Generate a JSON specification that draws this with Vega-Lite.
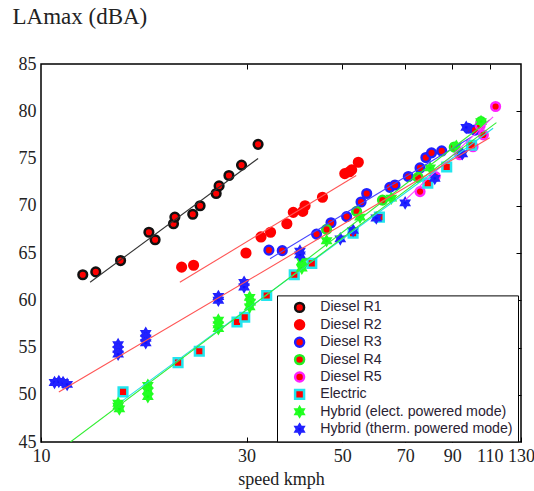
{
  "$schema": "https://vega.github.io/schema/vega-lite/v6.json",
  "autosize": "none",
  "width": 480,
  "height": 378,
  "padding": {"left": 41, "top": 64, "right": 13, "bottom": 49},
  "background": "white",
  "config": {
    "view": {"stroke": "#000", "strokeWidth": 1.5},
    "axis": {"grid": false, "domain": false, "labelFont": "Liberation Serif", "labelFontSize": 18, "labelColor": "#222", "titleFont": "Liberation Serif", "titleFontWeight": "normal", "titleColor": "#222", "tickColor": "#000"}
  },
  "datasets": {
    "pts": [
      {"s": "Diesel R1", "v": 12.5, "L": 62.7}, {"s": "Diesel R1", "v": 13.4, "L": 63.0}, {"s": "Diesel R1", "v": 15.3, "L": 64.2}, {"s": "Diesel R1", "v": 17.8, "L": 67.2}, {"s": "Diesel R1", "v": 18.4, "L": 66.4}, {"s": "Diesel R1", "v": 20.3, "L": 68.1}, {"s": "Diesel R1", "v": 20.45, "L": 68.8}, {"s": "Diesel R1", "v": 22.5, "L": 69.1}, {"s": "Diesel R1", "v": 23.4, "L": 70.0}, {"s": "Diesel R1", "v": 25.5, "L": 71.3}, {"s": "Diesel R1", "v": 25.9, "L": 72.1}, {"s": "Diesel R1", "v": 27.3, "L": 73.2}, {"s": "Diesel R1", "v": 29.2, "L": 74.3}, {"s": "Diesel R1", "v": 31.9, "L": 76.5},
      {"s": "Diesel R2", "v": 21.2, "L": 63.5}, {"s": "Diesel R2", "v": 22.6, "L": 63.7}, {"s": "Diesel R2", "v": 29.9, "L": 65.0}, {"s": "Diesel R2", "v": 32.4, "L": 66.7}, {"s": "Diesel R2", "v": 34.1, "L": 67.2}, {"s": "Diesel R2", "v": 37.2, "L": 68.1}, {"s": "Diesel R2", "v": 38.5, "L": 69.3}, {"s": "Diesel R2", "v": 40.5, "L": 69.4}, {"s": "Diesel R2", "v": 41.0, "L": 70.0}, {"s": "Diesel R2", "v": 45.0, "L": 70.9}, {"s": "Diesel R2", "v": 50.7, "L": 73.4}, {"s": "Diesel R2", "v": 52.0, "L": 73.6}, {"s": "Diesel R2", "v": 52.6, "L": 73.8}, {"s": "Diesel R2", "v": 54.5, "L": 74.6},
      {"s": "Diesel R3", "v": 33.8, "L": 65.3}, {"s": "Diesel R3", "v": 36.3, "L": 65.25}, {"s": "Diesel R3", "v": 43.6, "L": 67.0}, {"s": "Diesel R3", "v": 47.1, "L": 68.2}, {"s": "Diesel R3", "v": 51.2, "L": 68.85}, {"s": "Diesel R3", "v": 55.3, "L": 70.4}, {"s": "Diesel R3", "v": 57.0, "L": 71.3}, {"s": "Diesel R3", "v": 64.5, "L": 71.95}, {"s": "Diesel R3", "v": 66.3, "L": 72.2}, {"s": "Diesel R3", "v": 71.2, "L": 73.1}, {"s": "Diesel R3", "v": 75.8, "L": 74.0}, {"s": "Diesel R3", "v": 78.2, "L": 75.1}, {"s": "Diesel R3", "v": 80.6, "L": 75.6}, {"s": "Diesel R3", "v": 85.1, "L": 75.8}, {"s": "Diesel R3", "v": 98.0, "L": 78.2}, {"s": "Diesel R3", "v": 101.6, "L": 78.0},
      {"s": "Diesel R4", "v": 46.0, "L": 67.5}, {"s": "Diesel R4", "v": 54.0, "L": 69.4}, {"s": "Diesel R4", "v": 62.0, "L": 70.6}, {"s": "Diesel R4", "v": 75.0, "L": 73.0}, {"s": "Diesel R4", "v": 91.0, "L": 76.2}, {"s": "Diesel R4", "v": 105.0, "L": 78.9},
      {"s": "Diesel R5", "v": 75.8, "L": 71.5}, {"s": "Diesel R5", "v": 82.2, "L": 73.1}, {"s": "Diesel R5", "v": 93.7, "L": 75.4}, {"s": "Diesel R5", "v": 100.6, "L": 76.25}, {"s": "Diesel R5", "v": 106.3, "L": 77.5}, {"s": "Diesel R5", "v": 104.5, "L": 78.5}, {"s": "Diesel R5", "v": 113.5, "L": 80.5},
      {"s": "Electric", "v": 15.5, "L": 50.3}, {"s": "Electric", "v": 20.8, "L": 53.4}, {"s": "Electric", "v": 23.3, "L": 54.6}, {"s": "Electric", "v": 28.5, "L": 57.7}, {"s": "Electric", "v": 29.7, "L": 58.2}, {"s": "Electric", "v": 33.4, "L": 60.5}, {"s": "Electric", "v": 38.7, "L": 62.7}, {"s": "Electric", "v": 42.5, "L": 63.9}, {"s": "Electric", "v": 53.0, "L": 67.1}, {"s": "Electric", "v": 61.0, "L": 68.8}, {"s": "Electric", "v": 79.0, "L": 72.4}, {"s": "Electric", "v": 87.4, "L": 74.1}, {"s": "Electric", "v": 99.8, "L": 76.4},
      {"s": "Hybrid (elect. powered mode)", "v": 15.1, "L": 49.1}, {"s": "Hybrid (elect. powered mode)", "v": 15.1, "L": 48.8}, {"s": "Hybrid (elect. powered mode)", "v": 15.2, "L": 48.5}, {"s": "Hybrid (elect. powered mode)", "v": 17.7, "L": 51.0}, {"s": "Hybrid (elect. powered mode)", "v": 17.7, "L": 50.4}, {"s": "Hybrid (elect. powered mode)", "v": 17.7, "L": 49.8}, {"s": "Hybrid (elect. powered mode)", "v": 25.8, "L": 57.9}, {"s": "Hybrid (elect. powered mode)", "v": 25.8, "L": 57.4}, {"s": "Hybrid (elect. powered mode)", "v": 25.8, "L": 57.0}, {"s": "Hybrid (elect. powered mode)", "v": 30.5, "L": 60.3}, {"s": "Hybrid (elect. powered mode)", "v": 30.6, "L": 59.8}, {"s": "Hybrid (elect. powered mode)", "v": 30.5, "L": 59.3}, {"s": "Hybrid (elect. powered mode)", "v": 40.3, "L": 64.1}, {"s": "Hybrid (elect. powered mode)", "v": 40.3, "L": 63.4}, {"s": "Hybrid (elect. powered mode)", "v": 46.0, "L": 66.3}, {"s": "Hybrid (elect. powered mode)", "v": 55.0, "L": 68.8}, {"s": "Hybrid (elect. powered mode)", "v": 65.0, "L": 70.8}, {"s": "Hybrid (elect. powered mode)", "v": 80.0, "L": 74.0}, {"s": "Hybrid (elect. powered mode)", "v": 92.0, "L": 76.3}, {"s": "Hybrid (elect. powered mode)", "v": 105.0, "L": 78.9},
      {"s": "Hybrid (therm. powered mode)", "v": 10.75, "L": 51.3}, {"s": "Hybrid (therm. powered mode)", "v": 11.0, "L": 51.4}, {"s": "Hybrid (therm. powered mode)", "v": 11.25, "L": 51.3}, {"s": "Hybrid (therm. powered mode)", "v": 11.5, "L": 51.1}, {"s": "Hybrid (therm. powered mode)", "v": 15.1, "L": 55.3}, {"s": "Hybrid (therm. powered mode)", "v": 15.1, "L": 54.8}, {"s": "Hybrid (therm. powered mode)", "v": 15.1, "L": 54.3}, {"s": "Hybrid (therm. powered mode)", "v": 17.5, "L": 56.5}, {"s": "Hybrid (therm. powered mode)", "v": 17.5, "L": 56.0}, {"s": "Hybrid (therm. powered mode)", "v": 17.5, "L": 55.5}, {"s": "Hybrid (therm. powered mode)", "v": 25.8, "L": 60.4}, {"s": "Hybrid (therm. powered mode)", "v": 25.8, "L": 60.0}, {"s": "Hybrid (therm. powered mode)", "v": 29.6, "L": 61.9}, {"s": "Hybrid (therm. powered mode)", "v": 29.6, "L": 61.4}, {"s": "Hybrid (therm. powered mode)", "v": 39.9, "L": 65.2}, {"s": "Hybrid (therm. powered mode)", "v": 39.9, "L": 64.8}, {"s": "Hybrid (therm. powered mode)", "v": 49.5, "L": 66.5}, {"s": "Hybrid (therm. powered mode)", "v": 53.0, "L": 67.4}, {"s": "Hybrid (therm. powered mode)", "v": 60.0, "L": 68.7}, {"s": "Hybrid (therm. powered mode)", "v": 70.0, "L": 70.3}, {"s": "Hybrid (therm. powered mode)", "v": 82.0, "L": 72.9}, {"s": "Hybrid (therm. powered mode)", "v": 95.0, "L": 75.5}, {"s": "Hybrid (therm. powered mode)", "v": 97.0, "L": 78.3}
    ],
    "fits": [
      {"f": "R1", "v": 13.0, "L": 61.9}, {"f": "R1", "v": 31.9, "L": 75.0},
      {"f": "R2", "v": 21.0, "L": 61.9}, {"f": "R2", "v": 53.9, "L": 73.2},
      {"f": "R3", "v": 34.0, "L": 64.4}, {"f": "R3", "v": 100.0, "L": 77.3},
      {"f": "R4", "v": 40.0, "L": 63.8}, {"f": "R4", "v": 110.0, "L": 79.1},
      {"f": "R5", "v": 70.0, "L": 70.6}, {"f": "R5", "v": 112.0, "L": 79.4},
      {"f": "E", "v": 15.5, "L": 49.4}, {"f": "E", "v": 112.0, "L": 78.2},
      {"f": "HE", "v": 11.7, "L": 45.0}, {"f": "HE", "v": 114.0, "L": 78.8},
      {"f": "HT", "v": 11.0, "L": 50.3}, {"f": "HT", "v": 110.0, "L": 77.2}
    ]
  },
  "layer": [
    {
      "data": {"name": "pts"},
      "mark": {"type": "point", "filled": true, "size": 75, "strokeWidth": 2.5, "opacity": 1},
      "encoding": {
        "x": {"field": "v", "type": "quantitative", "scale": {"type": "log", "domain": [10, 130], "nice": false},
          "axis": {"orient": "bottom", "values": [10, 30, 50, 70, 90, 110, 130], "tickSize": -5, "labelPadding": 10, "title": "speed kmph", "titleFontSize": 18, "titlePadding": 5, "labelFlush": false}},
        "y": {"field": "L", "type": "quantitative", "scale": {"domain": [45, 85], "nice": false},
          "axis": {"orient": "left", "values": [45, 50, 55, 60, 65, 70, 75, 80, 85], "ticks": false, "labelPadding": 5, "title": "LAmax (dBA)", "titleFontSize": 23, "titleAngle": 0, "titleAlign": "left", "titleBaseline": "alphabetic", "titleX": -29, "titleY": -41}},
        "fill": {"field": "s", "type": "nominal",
          "legend": {"title": null, "orient": "none", "legendX": 236, "legendY": 231.4, "strokeColor": "#000", "fillColor": "white", "padding": 5, "symbolOffset": 10.5, "labelOffset": 13.5, "labelFont": "Liberation Sans", "labelFontSize": 14.2, "labelColor": "#2a2233", "rowPadding": 2.4, "clipHeight": 14, "symbolSize": 80, "symbolStrokeWidth": 2.5, "labelLimit": 400},
          "scale": {"domain": ["Diesel R1", "Diesel R2", "Diesel R3", "Diesel R4", "Diesel R5", "Electric", "Hybrid (elect. powered mode)", "Hybrid (therm. powered mode)"],
            "range": ["#ff0000", "#ff0000", "#ff0000", "#ff0000", "#ff0000", "#ff0000", "#11ff11", "#1010ff"]}},
        "stroke": {"field": "s", "type": "nominal",
          "legend": {"title": null, "orient": "none", "legendX": 236, "legendY": 231.4, "strokeColor": "#000", "fillColor": "white", "padding": 5, "symbolOffset": 10.5, "labelOffset": 13.5, "labelFont": "Liberation Sans", "labelFontSize": 14.2, "labelColor": "#2a2233", "rowPadding": 2.4, "clipHeight": 14, "symbolSize": 80, "symbolStrokeWidth": 2.5, "labelLimit": 400},
          "scale": {"domain": ["Diesel R1", "Diesel R2", "Diesel R3", "Diesel R4", "Diesel R5", "Electric", "Hybrid (elect. powered mode)", "Hybrid (therm. powered mode)"],
            "range": ["#111111", "#ff0000", "#2020ff", "#22ee22", "#ff22ff", "#22e5ee", "#22ff22", "#2222ff"]}},
        "shape": {"field": "s", "type": "nominal",
          "legend": {"title": null, "orient": "none", "legendX": 236, "legendY": 231.4, "strokeColor": "#000", "fillColor": "white", "padding": 5, "symbolOffset": 10.5, "labelOffset": 13.5, "labelFont": "Liberation Sans", "labelFontSize": 14.2, "labelColor": "#2a2233", "rowPadding": 2.4, "clipHeight": 14, "symbolSize": 80, "symbolStrokeWidth": 2.5, "labelLimit": 400},
          "scale": {"domain": ["Diesel R1", "Diesel R2", "Diesel R3", "Diesel R4", "Diesel R5", "Electric", "Hybrid (elect. powered mode)", "Hybrid (therm. powered mode)"],
            "range": ["circle", "circle", "circle", "circle", "circle", "square",
              "M0,-1L0.289,-0.5L0.866,-0.5L0.577,0L0.866,0.5L0.289,0.5L0,1L-0.289,0.5L-0.866,0.5L-0.577,0L-0.866,-0.5L-0.289,-0.5Z",
              "M0,-1L0.289,-0.5L0.866,-0.5L0.577,0L0.866,0.5L0.289,0.5L0,1L-0.289,0.5L-0.866,0.5L-0.577,0L-0.866,-0.5L-0.289,-0.5Z"]}}
      }
    },
    {
      "data": {"name": "fits"},
      "mark": {"type": "line", "strokeWidth": 1.1, "clip": true},
      "encoding": {
        "x": {"field": "v", "type": "quantitative",
          "axis": {"orient": "top", "values": [30, 50, 70, 90, 110], "tickSize": -5, "labels": false, "title": null}},
        "y": {"field": "L", "type": "quantitative",
          "axis": {"orient": "right", "values": [50, 55, 60, 65, 70, 75, 80], "tickSize": -5, "labels": false, "title": null}},
        "color": {"field": "f", "type": "nominal", "legend": null,
          "scale": {"domain": ["R1", "R2", "R3", "R4", "R5", "E", "HE", "HT"],
            "range": ["#333333", "#ff5555", "#4444ff", "#33ee33", "#ff44ff", "#22dde8", "#33ee33", "#ff5555"]}},
        "detail": {"field": "f"}
      }
    }
  ],
  "resolve": {"axis": {"x": "independent", "y": "independent"}}
}
